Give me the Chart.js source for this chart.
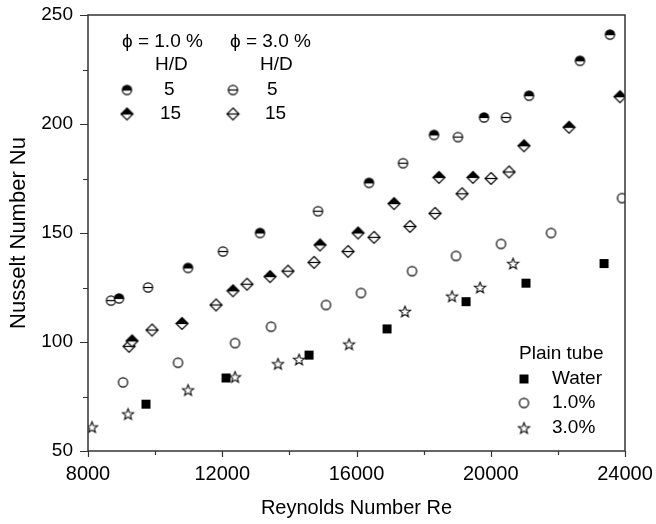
<!DOCTYPE html>
<html>
<head>
<meta charset="utf-8">
<script src="https://cdn.jsdelivr.net/npm/chart.js@4"></script>
<style>
  body { margin: 0; background: #fff; }
  #wrap { width: 656px; height: 524px; }
</style>
</head>
<body>
<div id="wrap"><canvas id="grafica" width="656" height="524"></canvas></div>
<script>
// phi = 1.0 %, H/D = 5 and 15 ; phi = 3.0 %, H/D = 5 and 15
const re1pct5 = [8924, 10980, 13125, 16373, 18310, 19800, 21140, 22659, 23553]
const nu1pct5 = [120, 134, 150, 173, 195, 203, 213, 229, 241]
const re3pct5 = [8685, 9788, 12022, 14853, 17386, 19024, 20455]
const nu3pct5 = [119, 125, 141.5, 160, 182, 194, 203]
const re1pct15 = [9311, 10800, 12320, 13423, 14913, 16045, 17118, 18458, 19471, 20990, 22332, 23851]
const nu1pct15 = [100.5, 108.5, 123.5, 130, 144.5, 150, 163.5, 175.5, 175.5, 190, 198.5, 212.5]
const re3pct15 = [9222, 9907, 11814, 12737, 13959, 14734, 15747, 16522, 17594, 18339, 19144, 20008, 20544]
const nu3pct15 = [98, 105.5, 117, 126.5, 132.5, 136.5, 141.5, 148, 153, 159, 168, 175, 178]

// plain tube
const reWater = [9728, 12112, 14585, 16910, 19263, 21050, 23375]
const nuWater = [71.5, 83.5, 94, 106, 118.5, 127, 136]
const rePlain1 = [9043, 10682, 12380, 13453, 15092, 16134, 17654, 18965, 20306, 21796, 23911]
const nuPlain1 = [81.5, 90.5, 99.5, 107, 117, 122.5, 132.5, 139.5, 145, 150, 166]
const rePlain3 = [8119, 9192, 10980, 12380, 13661, 14287, 15777, 17445, 18846, 19680, 20663]
const nuPlain3 = [61, 67, 78, 84, 90, 92, 99, 114, 121, 125, 136]

const xTicks = [8000, 12000, 16000, 20000, 24000]
const yTicks = [50, 100, 150, 200, 250]

const fuente = '"Liberation Sans", Arial, sans-serif'
const negro = '#000'

// dibuja los simbolos en canvas pequenos
function marcador(tipo) {
    const c = document.createElement('canvas')
    c.width = 15
    c.height = 15
    const ctx = c.getContext('2d')
    const cx = 7.5, cy = 7.5
    ctx.strokeStyle = negro
    ctx.fillStyle = negro
    ctx.lineWidth = 1.2
    if (tipo == 'mediocirculo' || tipo == 'theta' || tipo == 'circulo') {
        const r = 4.6
        ctx.fillStyle = '#fff'
        ctx.beginPath(); ctx.arc(cx, cy, r, 0, Math.PI * 2); ctx.fill()
        if (tipo == 'mediocirculo') {
            ctx.fillStyle = negro
            ctx.beginPath(); ctx.arc(cx, cy, r, Math.PI, Math.PI * 2); ctx.closePath(); ctx.fill()
        }
        ctx.beginPath(); ctx.arc(cx, cy, r, 0, Math.PI * 2); ctx.stroke()
        if (tipo != 'circulo') {
            ctx.beginPath(); ctx.moveTo(cx - r, cy); ctx.lineTo(cx + r, cy); ctx.stroke()
        }
    } else if (tipo == 'mediorombo' || tipo == 'rombo') {
        const r = 6
        ctx.fillStyle = '#fff'
        ctx.beginPath()
        ctx.moveTo(cx, cy - r); ctx.lineTo(cx + r, cy); ctx.lineTo(cx, cy + r); ctx.lineTo(cx - r, cy)
        ctx.closePath(); ctx.fill()
        if (tipo == 'mediorombo') {
            ctx.fillStyle = negro
            ctx.beginPath()
            ctx.moveTo(cx, cy - r); ctx.lineTo(cx + r, cy); ctx.lineTo(cx - r, cy)
            ctx.closePath(); ctx.fill()
        }
        ctx.beginPath()
        ctx.moveTo(cx, cy - r); ctx.lineTo(cx + r, cy); ctx.lineTo(cx, cy + r); ctx.lineTo(cx - r, cy)
        ctx.closePath(); ctx.stroke()
        ctx.beginPath(); ctx.moveTo(cx - r, cy); ctx.lineTo(cx + r, cy); ctx.stroke()
    } else if (tipo == 'cuadro') {
        ctx.fillRect(cx - 4.5, cy - 4.5, 9, 9)
    } else if (tipo == 'estrella') {
        ctx.fillStyle = '#fff'
        ctx.lineWidth = 1.1
        ctx.beginPath()
        for (let i = 0; i < 10; i++) {
            const rr = i % 2 == 0 ? 5.8 : 2.5
            const a = -Math.PI / 2 + i * Math.PI / 5
            const px = cx + rr * Math.cos(a), py = cy + 0.6 + rr * Math.sin(a)
            if (i == 0) ctx.moveTo(px, py); else ctx.lineTo(px, py)
        }
        ctx.closePath(); ctx.fill(); ctx.stroke()
    }
    return c
}

const simbolos = {
    mediocirculo: marcador('mediocirculo'),
    theta: marcador('theta'),
    mediorombo: marcador('mediorombo'),
    rombo: marcador('rombo'),
    cuadro: marcador('cuadro'),
    circulo: marcador('circulo'),
    estrella: marcador('estrella')
}

function serie(xs, ys, simbolo, etiqueta) {
    return {
        label: etiqueta,
        data: xs.map((x, i) => ({ x: x, y: ys[i] })),
        pointStyle: simbolos[simbolo],
        pointRadius: 6,
        showLine: false
    }
}

// cajas, ticks y leyendas dibujadas a mano
const extras = {
    id: 'extras',
    afterDraw(chart) {
        const ctx = chart.ctx
        const a = chart.chartArea
        const sx = chart.scales.x, sy = chart.scales.y
        ctx.save()
        ctx.strokeStyle = '#333'
        ctx.lineWidth = 1.5
        ctx.strokeRect(a.left, a.top, a.right - a.left, a.bottom - a.top)
        ctx.lineWidth = 1.2
        ctx.beginPath()
        for (let v = 8000; v <= 24000; v += 2000) {
            const px = Math.round(sx.getPixelForValue(v)) + 0.5
            const largo = xTicks.includes(v) ? 6 : 4
            ctx.moveTo(px, a.bottom); ctx.lineTo(px, a.bottom + largo)
        }
        for (let v = 50; v <= 250; v += 25) {
            const py = Math.round(sy.getPixelForValue(v)) + 0.5
            const largo = yTicks.includes(v) ? 8 : 5
            ctx.moveTo(a.left, py); ctx.lineTo(a.left - largo, py)
        }
        ctx.stroke()

        ctx.fillStyle = negro
        ctx.font = '19px ' + fuente
        ctx.textBaseline = 'middle'
        ctx.fillText('\u03d5 = 1.0 %', 122, 42)
        ctx.fillText('\u03d5 = 3.0 %', 230, 42)
        ctx.fillText('H/D', 155, 65)
        ctx.fillText('H/D', 260, 65)
        ctx.fillText('5', 164, 90)
        ctx.fillText('5', 267, 90)
        ctx.fillText('15', 160, 114)
        ctx.fillText('15', 265, 114)
        ctx.fillText('Plain tube', 519, 354)
        ctx.fillText('Water', 552, 379)
        ctx.fillText('1.0%', 552, 403)
        ctx.fillText('3.0%', 552, 428)

        const poner = (s, x, y) => ctx.drawImage(s, x - s.width / 2, y - s.height / 2)
        poner(simbolos.mediocirculo, 127, 90)
        poner(simbolos.theta, 233, 90)
        poner(simbolos.mediorombo, 127, 114)
        poner(simbolos.rombo, 233, 114)
        poner(simbolos.cuadro, 524, 379)
        poner(simbolos.circulo, 524, 403)
        poner(simbolos.estrella, 524, 428)
        ctx.restore()
    }
}

const config = {
    type: 'scatter',
    data: {
        datasets: [
            serie(re1pct5, nu1pct5, 'mediocirculo', '1.0% H/D 5'),
            serie(re3pct5, nu3pct5, 'theta', '3.0% H/D 5'),
            serie(re1pct15, nu1pct15, 'mediorombo', '1.0% H/D 15'),
            serie(re3pct15, nu3pct15, 'rombo', '3.0% H/D 15'),
            serie(reWater, nuWater, 'cuadro', 'Water'),
            serie(rePlain1, nuPlain1, 'circulo', '1.0%'),
            serie(rePlain3, nuPlain3, 'estrella', '3.0%')
        ]
    },
    options: {
        responsive: false,
        animation: false,
        layout: { padding: { top: 15, right: 31, bottom: 0, left: 0 } },
        plugins: { legend: { display: false }, tooltip: { enabled: false } },
        scales: {
            x: {
                type: 'linear',
                min: 8000,
                max: 24000,
                afterFit: (s) => { s.height = 73; s.paddingLeft = 0; s.paddingRight = 0 },
                grid: { drawOnChartArea: false, drawTicks: false },
                border: { display: false },
                ticks: {
                    stepSize: 2000,
                    padding: 11,
                    color: negro,
                    maxRotation: 0,
                    autoSkip: false,
                    font: { family: fuente, size: 20 },
                    callback: (v) => xTicks.includes(v) ? String(v) : ''
                },
                title: {
                    display: true,
                    text: 'Reynolds Number Re',
                    color: negro,
                    font: { family: fuente, size: 20 },
                    padding: { top: 0, bottom: 4 }
                }
            },
            y: {
                type: 'linear',
                min: 50,
                max: 250,
                afterFit: (s) => { s.width = 88; s.paddingTop = 0; s.paddingBottom = 0 },
                grid: { drawOnChartArea: false, drawTicks: false },
                border: { display: false },
                ticks: {
                    stepSize: 25,
                    padding: 15,
                    color: negro,
                    autoSkip: false,
                    font: { family: fuente, size: 19 },
                    callback: (v) => yTicks.includes(v) ? String(v) : ''
                },
                title: {
                    display: true,
                    text: 'Nusselt Number Nu',
                    color: negro,
                    font: { family: fuente, size: 22 },
                    padding: { top: 6, bottom: 0 }
                }
            }
        }
    },
    plugins: [extras]
}

const grafica = new Chart(document.getElementById('grafica'), config)
</script>
</body>
</html>
